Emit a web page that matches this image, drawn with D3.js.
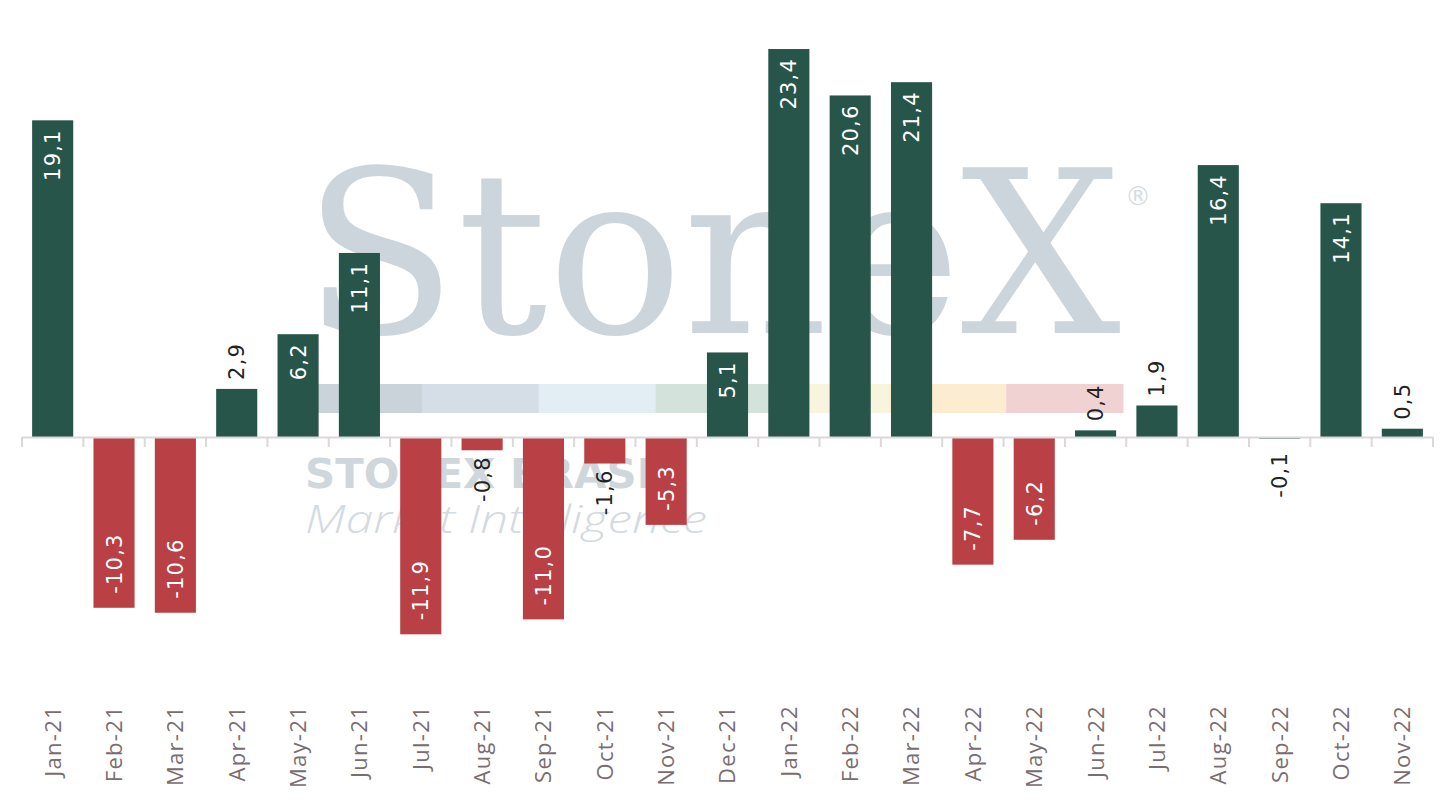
<!DOCTYPE html>
<html>
<head>
<meta charset="utf-8">
<script src="https://cdn.jsdelivr.net/npm/d3@7"></script>
<style>
  body { margin: 0; background: #ffffff; }
  svg { display: block; }
</style>
</head>
<body>
<div id="chart"></div>
<script>
// monthly values
const months = ["Jan-21", "Feb-21", "Mar-21", "Apr-21", "May-21", "Jun-21", "Jul-21", "Aug-21",
    "Sep-21", "Oct-21", "Nov-21", "Dec-21", "Jan-22", "Feb-22", "Mar-22", "Apr-22", "May-22",
    "Jun-22", "Jul-22", "Aug-22", "Sep-22", "Oct-22", "Nov-22"];
const values = [19.1, -10.3, -10.6, 2.9, 6.2, 11.1, -11.9, -0.8, -11.0, -1.6, -5.3, 5.1,
    23.4, 20.6, 21.4, -7.7, -6.2, 0.4, 1.9, 16.4, -0.1, 14.1, 0.5];
// watermark texts
const brandName = "StoneX";
const brandLine1 = "STONEX BRASIL";
const brandLine2 = "Market Intelligence";
const brandBand = ["#cbd3da", "#d5dde7", "#e2edf4", "#d3e3db", "#f8f4dd", "#fcecd0", "#f0d2d3"];

function drawChart()
{
    const width = 1456;
    const height = 808;
    const left = 22, right = 1433;
    const green = "#27554a";
    const red = "#b94044";

    const data = months.map((m, i) => ({month: m, val: values[i]}));

    const x = d3.scaleBand(months, [left, right]).paddingInner(0.33).paddingOuter(0.165);
    const y = d3.scaleLinear([-14, 25], [437 + 14 * 16.58, 437 - 25 * 16.58]);
    const fmt = v => d3.format(".1f")(v).replace(".", ",").replace("−", "-");

    const svg = d3.create("svg")
        .attr("width", width)
        .attr("height", height)
        .attr("viewBox", [0, 0, width, height]);

    // watermark
    const wm = svg.append("g").attr("class", "watermark");
    wm.append("text")
        .attr("x", 303)
        .attr("y", 333)
        .attr("font-family", "DejaVu Serif, serif")
        .attr("font-size", 226)
        .attr("textLength", 818)
        .attr("lengthAdjust", "spacingAndGlyphs")
        .attr("fill", "#cdd5dc")
        .text(brandName);
    wm.append("text")
        .attr("x", 1125)
        .attr("y", 205)
        .attr("font-family", "DejaVu Sans, sans-serif")
        .attr("font-size", 26)
        .attr("fill", "#d6dce1")
        .text("®");
    const bandScale = d3.scaleBand(d3.range(brandBand.length), [305, 1123]);
    wm.append("g")
        .selectAll("rect")
        .data(brandBand)
        .join("rect")
        .attr("x", (d, i) => bandScale(i))
        .attr("width", bandScale.bandwidth() + 0.5)
        .attr("y", 384)
        .attr("height", 29)
        .attr("fill", d => d);
    wm.append("text")
        .attr("x", 305)
        .attr("y", 488)
        .attr("font-family", "DejaVu Sans, sans-serif")
        .attr("font-weight", "bold")
        .attr("font-size", 41)
        .attr("textLength", 374)
        .attr("lengthAdjust", "spacingAndGlyphs")
        .attr("fill", "#cfd6dc")
        .text(brandLine1);
    wm.append("text")
        .attr("x", 305)
        .attr("y", 533)
        .attr("font-family", "Open Sans, sans-serif")
        .attr("font-weight", 300)
        .attr("font-style", "italic")
        .attr("font-size", 39)
        .attr("textLength", 402)
        .attr("lengthAdjust", "spacingAndGlyphs")
        .attr("fill", "#d3dae1")
        .text(brandLine2);

    // bars
    svg.append("g")
        .selectAll("rect")
        .data(data)
        .join("rect")
        .attr("x", d => x(d.month))
        .attr("width", x.bandwidth())
        .attr("y", d => y(Math.max(0, d.val)))
        .attr("height", d => Math.max(1.5, Math.abs(y(d.val) - y(0))))
        .attr("fill", d => d.val > -0.5 ? green : red);

    // axis line and boundary ticks
    const step = x.step();
    const edges = months.map(m => x(m) - x.paddingInner() * step / 2);
    edges.push(edges[edges.length - 1] + step);
    const axis = svg.append("g").attr("stroke", "#dcd7d8").attr("stroke-width", 2);
    axis.append("line")
        .attr("x1", left).attr("x2", right)
        .attr("y1", y(0) + 0.5).attr("y2", y(0) + 0.5);
    axis.selectAll("line.tick")
        .data(edges)
        .join("line")
        .attr("class", "tick")
        .attr("x1", d => d).attr("x2", d => d)
        .attr("y1", y(0)).attr("y2", y(0) + 10);

    // month labels
    svg.append("g")
        .attr("transform", "translate(0,705)")
        .call(d3.axisBottom(x).tickSize(0).tickPadding(0))
        .call(g => g.select(".domain").remove())
        .call(g => g.selectAll(".tick text")
            .attr("transform", "rotate(-90)")
            .attr("x", 0)
            .attr("y", 0)
            .attr("dy", "0.36em")
            .attr("text-anchor", "end")
            .attr("font-family", "Open Sans, sans-serif")
            .attr("font-size", 22)
            .attr("letter-spacing", 1.3)
            .attr("fill", "#7a6d70"));

    // value labels
    svg.append("g")
        .selectAll("text")
        .data(data)
        .join("text")
        .attr("transform", d => {
            const cx = x(d.month) + x.bandwidth() / 2;
            const inside = Math.abs(d.val) >= 4;
            let py;
            if (d.val >= 0) py = inside ? y(d.val) + 9 : y(d.val) - 9;
            else py = inside ? y(d.val) - 14 : Math.max(y(d.val), 446) + 6;
            return `translate(${cx},${py}) rotate(-90)`;
        })
        .attr("dy", "0.36em")
        .attr("text-anchor", d => {
            const inside = Math.abs(d.val) >= 4;
            if (d.val >= 0) return inside ? "end" : "start";
            return inside ? "start" : "end";
        })
        .attr("font-family", "DejaVu Sans, sans-serif")
        .attr("font-size", 21)
        .attr("letter-spacing", 1.2)
        .attr("fill", d => Math.abs(d.val) >= 4 ? "#ffffff" : "#222222")
        .text(d => fmt(d.val));

    return svg.node();
}

document.getElementById("chart").appendChild(drawChart());
</script>
</body>
</html>
